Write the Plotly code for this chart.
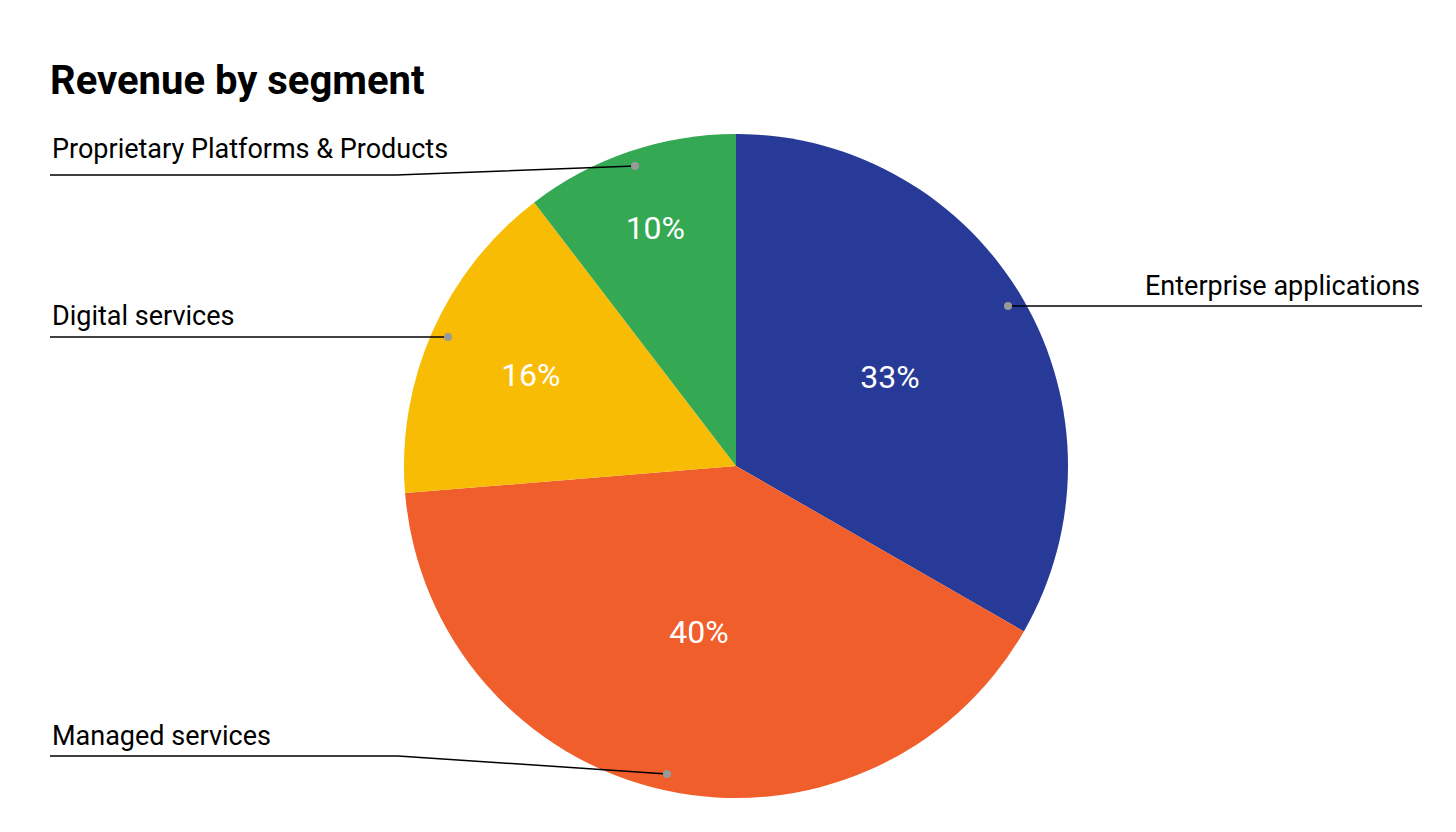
import plotly.graph_objects as go

labels = ["Enterprise applications", "Managed services", "Digital services", "Proprietary Platforms & Products"]
values = [33.3, 40.4, 15.9, 10.4]
colors = ["#283a97", "#f05e2c", "#f9bc05", "#34a853"]

W, H = 1456, 832
def px(x): return x / W
def py(y): return 1 - y / H

fig = go.Figure(go.Pie(
    labels=labels, values=values, sort=False, direction="clockwise", rotation=0,
    marker=dict(colors=colors), texttemplate="%{percent:.0%}", textposition="inside",
    insidetextfont=dict(color="white", size=32, family="Roboto"), insidetextorientation="horizontal",
    domain=dict(x=[0, 1], y=[42 / H, 1 - 126 / H]), showlegend=False, hoverinfo="label+percent"))

# leader lines (pixel paths) and labels
leaders = [
    ([(1000, 298), (1414, 298)], "Enterprise applications", 1414, 278, "right"),
    ([(42, 748), (390, 748), (659, 766)], "Managed services", 42, 728, "left"),
    ([(42, 329), (440, 329)], "Digital services", 42, 308, "left"),
    ([(42, 167), (388, 167), (627, 158)], "Proprietary Platforms & Products", 42, 141, "left"),
]
shapes = []
annotations = []
for pts, text, tx, ty, align in leaders:
    path = "M " + " L ".join(f"{px(x)},{py(y)}" for x, y in pts)
    shapes.append(dict(type="path", path=path, xref="paper", yref="paper", line=dict(color="black", width=1.5)))
    dx, dy = pts[-1] if align == "left" else pts[0]
    r = 4
    shapes.append(dict(type="circle", xref="paper", yref="paper", x0=px(dx - r), x1=px(dx + r),
                       y0=py(dy + r), y1=py(dy - r), fillcolor="#999999", line=dict(width=0)))
    annotations.append(dict(text=text, x=px(tx), y=py(ty), xref="paper", yref="paper", showarrow=False,
                            xanchor=align, yanchor="middle", font=dict(size=27, color="black", family="Roboto")))

fig.update_layout(
    width=W, height=H, margin=dict(l=0, r=0, t=0, b=0), paper_bgcolor="white",
    title=dict(text="<b>Revenue by segment</b>", x=42 / W, xanchor="left", y=py(72), yanchor="middle",
               font=dict(size=40, color="black", family="Roboto")),
    shapes=shapes, annotations=annotations)
fig.write_html("out.html")
